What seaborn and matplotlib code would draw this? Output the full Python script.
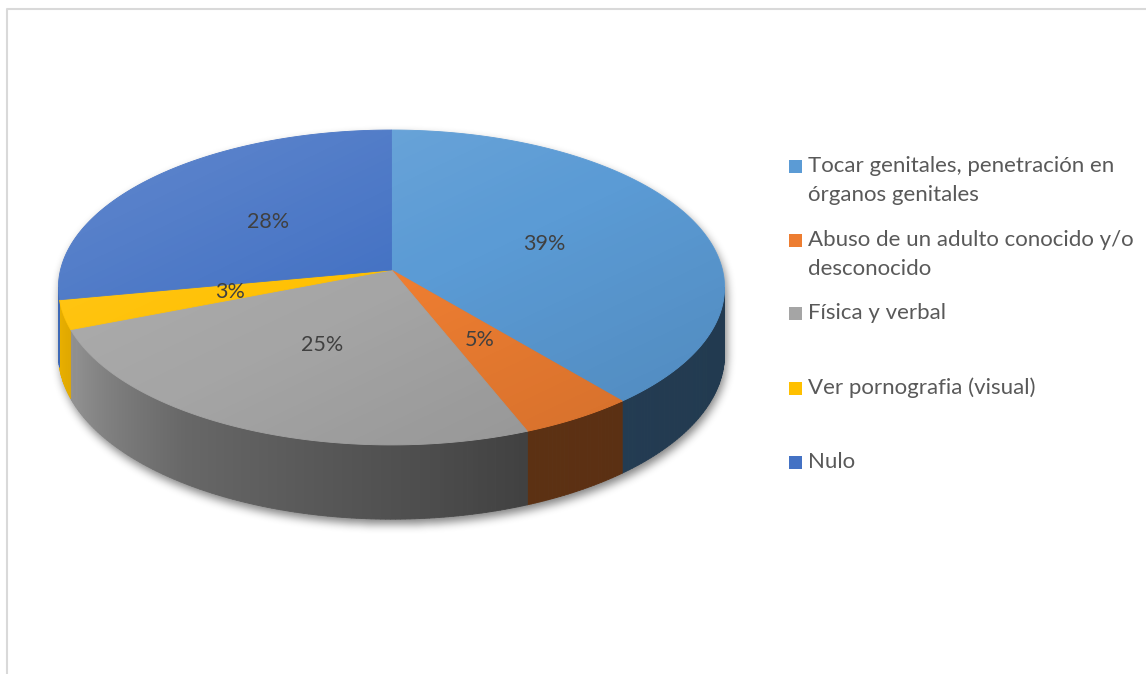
import numpy as np
import matplotlib
matplotlib.use("Agg")
import matplotlib.pyplot as plt
import seaborn as sns
from matplotlib.path import Path
from matplotlib.patches import Polygon, Rectangle, PathPatch
from matplotlib.collections import PolyCollection
from matplotlib.colors import to_rgb

categories = [
    "Tocar genitales, penetración en\nórganos genitales",
    "Abuso de un adulto conocido y/o\ndesconocido",
    "Física y verbal",
    "Ver pornografia (visual)",
    "Nulo",
]
values = [39, 5, 25, 3, 28]
pct_labels = ["39%", "5%", "25%", "3%", "28%"]
colors = ["#5b9bd5", "#ed7d31", "#a5a5a5", "#ffc000", "#4472c4"]

sns.set_theme(style="white")
plt.rcParams["font.family"] = ["Lato", "DejaVu Sans"]

W, H = 1146, 674
fig = plt.figure(figsize=(W / 100, H / 100), dpi=100)
ax = fig.add_axes([0, 0, 1, 1])
ax.set_xlim(0, W)
ax.set_ylim(H, 0)
ax.axis("off")

# perspective disc: centre, radii, foreshortening and thickness (pixels)
CX, CY = 391.5, 270.0
RX, RY = 331.0, 155.5
PERSP = 0.111
DEPTH = 66.0


def project(theta_deg, r=1.0, drop=0.0):
    t = np.radians(np.asarray(theta_deg, dtype=float))
    u, v = r * np.sin(t), r * np.cos(t)
    w = 1 + PERSP * v
    return CX + RX * u / w, CY - RY * v / w + drop / w


limb = np.degrees(np.arccos(-PERSP))          # right silhouette angle
vis_lo, vis_hi = limb, 360 - limb              # visible front wall

total = float(sum(values))
bounds = np.concatenate([[0], np.cumsum(values)]) / total * 360.0

# soft drop shadow under the disc
th_back = np.linspace(-limb, limb, 400)
th_front = np.linspace(vis_lo, vis_hi, 400)
bx, by = project(th_back)
fx, fy = project(th_front, drop=DEPTH)
sil = np.column_stack([np.concatenate([bx, fx]), np.concatenate([by, fy])])
gx, gy = np.meshgrid(np.arange(W) + 0.5, np.arange(H) + 0.5)
mask = Path(sil + np.array([2.0, 5.0])).contains_points(
    np.column_stack([gx.ravel(), gy.ravel()])).reshape(H, W).astype(float)


def box_blur(img, r):
    k = 2 * r + 1
    p = np.pad(img, ((0, 0), (r + 1, r)), mode="edge")
    c = np.cumsum(p, axis=1)
    img = (c[:, k:] - c[:, :-k]) / k
    p = np.pad(img, ((r + 1, r), (0, 0)), mode="edge")
    c = np.cumsum(p, axis=0)
    return (c[k:, :] - c[:-k, :]) / k


for _ in range(3):
    mask = box_blur(mask, 4)
shadow = np.zeros((H, W, 4))
shadow[..., 3] = mask * 0.5
ax.imshow(shadow, extent=[0, W, H, 0], zorder=1, interpolation="bilinear")

# brightness of the wall as it turns away from the light
shade_at = [90, 158, 178, 215, 245, 270]
shade_val = [0.37, 0.39, 0.48, 0.63, 0.87, 0.95]


def wall_shade(theta):
    return float(np.interp(theta, shade_at, shade_val))


# front wall of each slice
quads, qcols = [], []
for i, col in enumerate(colors):
    a0, a1 = max(bounds[i], vis_lo), min(bounds[i + 1], vis_hi)
    if a1 <= a0:
        continue
    steps = np.linspace(a0, a1, max(2, int((a1 - a0) / 0.75) + 2))
    base = np.array(to_rgb(col))
    for t0, t1 in zip(steps[:-1], steps[1:]):
        x0, y0 = project(t0)
        x1, y1 = project(t1)
        x2, y2 = project(t1, drop=DEPTH)
        x3, y3 = project(t0, drop=DEPTH)
        quads.append([(x0, y0), (x1, y1), (x2, y2), (x3, y3)])
        qcols.append(np.clip(base * wall_shade(0.5 * (t0 + t1)), 0, 1))
ax.add_collection(PolyCollection(quads, facecolors=qcols, edgecolors=qcols,
                                 linewidths=0.6, zorder=2))

# top faces
for i, col in enumerate(colors):
    th = np.linspace(bounds[i], bounds[i + 1], max(3, int(values[i] * 8)))
    x, y = project(th)
    pts = np.column_stack([np.concatenate([[CX], x]), np.concatenate([[CY], y])])
    ax.add_patch(Polygon(pts, closed=True, facecolor=col, edgecolor=col,
                         linewidth=0.6, zorder=3))

# light sheen across the top surface
tx, ty = project(np.linspace(0, 360, 500))
top_path = Path(np.column_stack([tx, ty]))
g = np.clip(((gx - 60) / 665 + (gy - 130) / 315) / 2, 0, 1)
sheen = np.zeros((H, W, 4))
light = g < 0.5
sheen[light, :3] = 1.0
sheen[..., 3] = np.where(light, 0.16 * (1 - 2 * g), 0.12 * (2 * g - 1))
im = ax.imshow(sheen, extent=[0, W, H, 0], zorder=4, interpolation="bilinear")
clip = PathPatch(top_path, transform=ax.transData, facecolor="none", edgecolor="none")
ax.add_patch(clip)
im.set_clip_path(clip)

# percentage labels
for i, lab in enumerate(pct_labels):
    mid = 0.5 * (bounds[i] + bounds[i + 1])
    lx, ly = project(mid, r=0.5)
    ax.text(lx, ly, lab, ha="center", va="center", fontsize=15.5,
            color="#404040", zorder=5)

# legend
legend_rows = [166, 240, 313, 388, 462]
for cat, col, ry in zip(categories, colors, legend_rows):
    ax.add_patch(Rectangle((789, ry - 6.5), 13, 13, facecolor=col,
                           edgecolor="none", zorder=5))
    for j, line in enumerate(cat.split("\n")):
        ax.text(808, ry + j * 29, line, ha="left", va="center",
                fontsize=16, color="#595959", zorder=5)

# chart area frame
ax.plot([6.5, 6.5, W], [H, 8.5, 8.5], color="#d9d9d9", lw=1.5, zorder=6)

fig.savefig("out.png", dpi=100)
